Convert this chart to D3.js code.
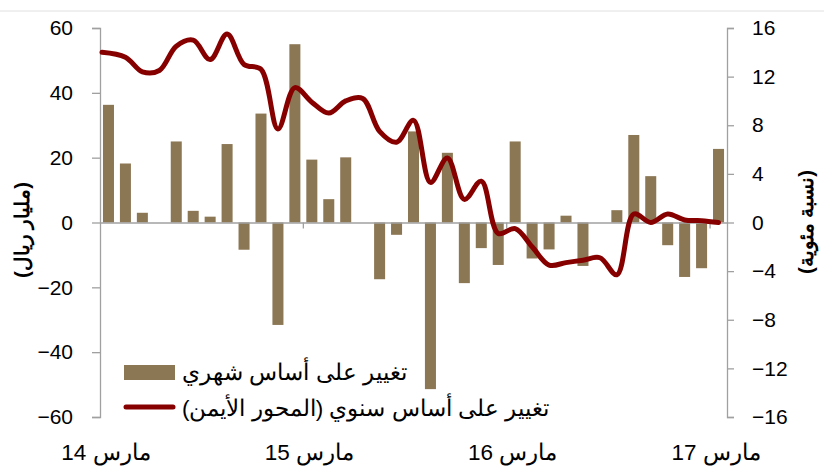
<!DOCTYPE html>
<html>
<head>
<meta charset="utf-8">
<script src="https://cdn.jsdelivr.net/npm/d3@7"></script>
<style>
    body { margin: 0; background: #fff; }
    svg { display: block; font-family: "Liberation Sans", Arial, sans-serif; }
    .axis path, .axis line { stroke: #a0a0a0; stroke-width: 1.3; }
    .axis text { font-size: 21px; fill: #000; }
</style>
</head>
<body>
<div id="chart"></div>
<script>
const CANVAS = { w: 824, h: 469 };

// --- DATOS ---
const months = [
    "2014-03", "2014-04", "2014-05", "2014-06", "2014-07", "2014-08", "2014-09", "2014-10", "2014-11", "2014-12",
    "2015-01", "2015-02", "2015-03", "2015-04", "2015-05", "2015-06", "2015-07", "2015-08", "2015-09", "2015-10",
    "2015-11", "2015-12", "2016-01", "2016-02", "2016-03", "2016-04", "2016-05", "2016-06", "2016-07", "2016-08",
    "2016-09", "2016-10", "2016-11", "2016-12", "2017-01", "2017-02", "2017-03"
];

// تغيير على أساس شهري (مليار ريال)
const monthlyChange = [
    36.3, 18.2, 3.0, 0, 25.0, 3.6, 1.8, 24.2, -8.4, 33.6,
    -31.6, 55.0, 19.4, 7.2, 20.1, 0, -17.5, -3.8, 28.1, -51.4,
    21.5, -18.7, -7.9, -13.1, 25.0, -11.1, -8.3, 2.1, -13.4, 0,
    3.8, 27.0, 14.3, -7.0, -16.8, -14.1, 22.7
];

// تغيير على أساس سنوي (%)
const yearlyChange = [
    14.0, 13.6, 12.4, 12.5, 14.5, 15.0, 13.4, 15.5, 13.0, 12.6,
    7.7, 11.1, 9.9, 9.0, 10.0, 10.2, 7.5, 6.6, 8.4, 3.3,
    5.3, 1.9, 3.4, -0.9, -0.5, -2.0, -3.5, -3.3, -3.1, -2.9,
    -4.3, 0.7, 0.0, 0.7, 0.2, 0.15, 0.0
];

const leftTicks = [-60, -40, -20, 0, 20, 40, 60];
const rightTicks = [-16, -12, -8, -4, 0, 4, 8, 12, 16];
const xLabelMonths = ["2014-03", "2015-03", "2016-03", "2017-03"];
const xLabels = ["مارس 14", "مارس 15", "مارس 16", "مارس 17"];
const legendLabels = ["تغيير على أساس شهري", "تغيير على أساس سنوي (المحور الأيمن)"];
const axisTitles = ["(مليار ريال)", "(نسبة مئوية)"];

const COLORS = { bar: "#8c7755", line: "#870000", axis: "#a0a0a0" };
const PLOT = { left: 100, right: 727, top: 28, bottom: 417 };

// --- ESCALAS ---
const x = d3.scaleBand()
    .domain(months)
    .range([PLOT.left, PLOT.right])
    .paddingInner(0.35)
    .paddingOuter(0.175);

const yLeft = d3.scaleLinear().domain([-60, 60]).range([PLOT.bottom, PLOT.top]);
const yRight = d3.scaleLinear().domain([-16, 16]).range([PLOT.bottom, PLOT.top]);

const svg = d3.select("#chart")
    .append("svg")
    .attr("width", CANVAS.w)
    .attr("height", CANVAS.h);

// línea gris superior
svg.append("line")
    .attr("x1", 0).attr("x2", CANVAS.w)
    .attr("y1", 11).attr("y2", 11)
    .attr("stroke", "#e0e0e0")
    .attr("stroke-width", 1);

// --- BARRAS ---
svg.append("g")
    .selectAll("rect")
    .data(monthlyChange)
    .enter()
    .append("rect")
    .attr("x", (d, i) => x(months[i]))
    .attr("width", x.bandwidth())
    .attr("y", d => yLeft(Math.max(0, d)))
    .attr("height", d => Math.abs(yLeft(d) - yLeft(0)))
    .attr("fill", COLORS.bar);

// --- EJES ---
svg.append("g")
    .attr("class", "axis")
    .attr("transform", `translate(${PLOT.left},0)`)
    .call(d3.axisLeft(yLeft).tickValues(leftTicks).tickSize(8).tickSizeOuter(8).tickPadding(19));

svg.append("g")
    .attr("class", "axis")
    .attr("transform", `translate(${PLOT.right},0)`)
    .call(d3.axisRight(yRight).tickValues(rightTicks).tickSize(7).tickSizeOuter(7).tickPadding(18));

// línea del cero con marcas anuales
const xAxis = svg.append("g")
    .attr("class", "axis")
    .attr("transform", `translate(0,${yLeft(0)})`)
    .call(d3.axisBottom(x)
        .tickValues(xLabelMonths.slice(1))
        .tickSize(6)
        .tickSizeOuter(0)
        .tickFormat(""));
xAxis.selectAll(".tick").attr("transform", d => `translate(${x(d) - x.step() * x.paddingInner() / 2},0)`);

// etiquetas del eje X
svg.append("g")
    .selectAll("text")
    .data(xLabelMonths)
    .enter()
    .append("text")
    .attr("x", d => x(d) - x.step() * x.paddingInner() / 2 + 6)
    .attr("y", 460)
    .attr("text-anchor", "middle")
    .attr("direction", "rtl")
    .style("font-size", "22.5px")
    .text((d, i) => xLabels[i]);

// --- LÍNEA ANUAL ---
// arranca desde el eje izquierdo, como en el original
const line = d3.line()
    .x((d, i) => i === 0 ? PLOT.left + 2 : x(months[i]) + x.bandwidth() / 2)
    .y(d => yRight(d))
    .curve(d3.curveCatmullRom.alpha(0.5));

svg.append("path")
    .datum(yearlyChange)
    .attr("d", line)
    .attr("fill", "none")
    .attr("stroke", COLORS.line)
    .attr("stroke-width", 5)
    .attr("stroke-linejoin", "round")
    .attr("stroke-linecap", "round");

// --- TÍTULOS DE EJES ---
svg.append("text")
    .attr("transform", "translate(29,230) rotate(-90)")
    .attr("text-anchor", "middle")
    .attr("direction", "rtl")
    .style("font-size", "20px")
    .style("font-weight", "bold")
    .text(axisTitles[0]);

svg.append("text")
    .attr("transform", "translate(813,222) rotate(-90)")
    .attr("text-anchor", "middle")
    .attr("direction", "rtl")
    .style("font-size", "20px")
    .style("font-weight", "bold")
    .text(axisTitles[1]);

// --- LEYENDA ---
const legend = svg.append("g");

legend.append("rect")
    .attr("x", 124).attr("y", 365)
    .attr("width", 51).attr("height", 15)
    .attr("fill", COLORS.bar);

legend.append("line")
    .attr("x1", 126).attr("x2", 173)
    .attr("y1", 407).attr("y2", 407)
    .attr("stroke", COLORS.line)
    .attr("stroke-width", 5)
    .attr("stroke-linecap", "round");

legend.selectAll("text.lg")
    .data(legendLabels)
    .enter()
    .append("text")
    .attr("class", "lg")
    .attr("x", 182)
    .attr("y", (d, i) => 380 + i * 36)
    .attr("text-anchor", "end")
    .attr("direction", "rtl")
    .style("font-size", "22.5px")
    .text(d => d);
</script>
</body>
</html>
